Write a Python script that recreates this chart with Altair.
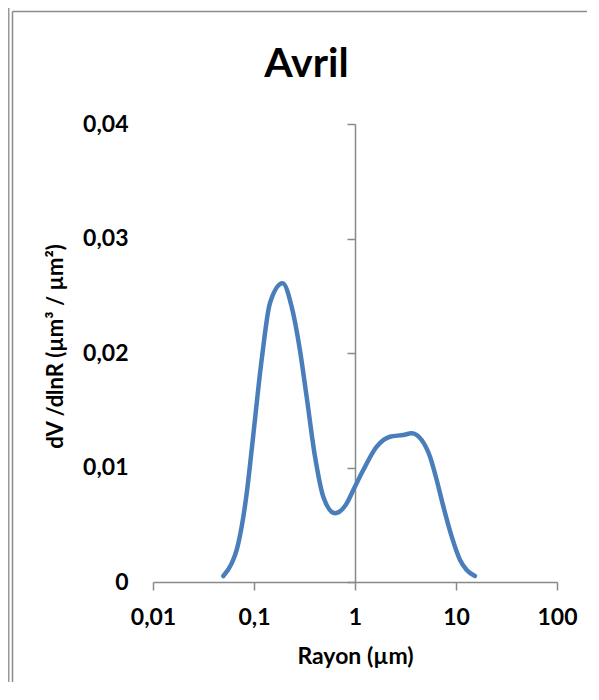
import altair as alt
import pandas as pd

# Radius (µm) and dV/dlnR values
rayon = [0.0497, 0.0601, 0.0674, 0.0755, 0.0847, 0.0948, 0.119, 0.144, 0.192, 0.236,
         0.285, 0.332, 0.402, 0.485, 0.634, 0.828, 0.962, 1.208, 1.64, 2.22,
         3.01, 3.64, 4.57, 5.53, 6.44, 7.50, 9.07, 10.96, 12.76, 15.4]
dv = [0.00052, 0.00163, 0.0028, 0.00483, 0.00775, 0.01153, 0.01939, 0.02437, 0.02609, 0.02404,
      0.02026, 0.01618, 0.01094, 0.00745, 0.0060, 0.00687, 0.00803, 0.00978, 0.01182, 0.01269,
      0.01284, 0.01299, 0.0124, 0.01094, 0.00891, 0.00658, 0.00396, 0.00192, 0.00105, 0.00052]

x_ticks = [0.01, 0.1, 1, 10, 100]
y_ticks = [0, 0.01, 0.02, 0.03, 0.04]
chart_title = ["Avril"]

df = pd.DataFrame({"r": rayon, "v": dv})

FONT = "Lato"
GRAY = "#898989"
W, H = 404, 458
PAD_L, PAD_T, PAD_R, PAD_B = 145, 116, 30, 100

x_scale = alt.Scale(type="log", domain=[0.01, 100], nice=False)
y_scale = alt.Scale(domain=[0, 0.04], nice=False)

x_axis = alt.Axis(
    values=x_ticks, title="Rayon (µm)", grid=False,
    labelExpr="replace(toString(datum.value), '.', ',')",
    labelFont=FONT, labelFontSize=23, labelFontWeight="bold", labelColor="black",
    labelPadding=16, labelFlush=False,
    tickSize=8, tickColor=GRAY, tickWidth=1.5,
    domainColor=GRAY, domainWidth=1.5,
    titleFont=FONT, titleFontSize=23, titleFontWeight="bold", titleColor="black",
    titlePadding=16,
)

# Left-side labels and title (no line)
y_label_axis = alt.Axis(
    orient="left", values=y_ticks, grid=False, domain=False, ticks=False, tickSize=0,
    labelExpr="replace(toString(datum.value), '.', ',')",
    labelFont=FONT, labelFontSize=23, labelFontWeight="bold", labelColor="black",
    labelPadding=25, labelFlush=False,
    title="dV /dlnR (µm³ / µm²)", titleFont=FONT, titleFontSize=22,
    titleFontWeight="bold", titleColor="black", titleAngle=-90,
    titleX=-86, titleY=222, titleAlign="center", titleBaseline="bottom",
)

# Axis line crossing at x = 1
y_line_axis = alt.Axis(
    orient="left", values=y_ticks, grid=False, labels=False, title=None,
    offset=-202, tickSize=8, tickColor=GRAY, tickWidth=1.5,
    domainColor=GRAY, domainWidth=1.5, zindex=0,
)

labels_layer = alt.Chart(df).mark_line(strokeOpacity=0).encode(
    x=alt.X("r:Q", scale=x_scale, axis=x_axis),
    y=alt.Y("v:Q", scale=y_scale, axis=y_label_axis),
)

curve = alt.Chart(df).mark_line(
    color="#4a7ebb", strokeWidth=4.5, interpolate="monotone", strokeCap="round"
).encode(
    x=alt.X("r:Q", scale=x_scale, axis=x_axis),
    y=alt.Y("v:Q", scale=y_scale, axis=y_line_axis),
)

title_layer = alt.Chart(alt.Data(values=[{"t": t} for t in chart_title])).mark_text(
    font=FONT, fontSize=41, fontWeight="bold", color="black",
    align="center", baseline="alphabetic"
).encode(
    text="t:N", x=alt.value(153.5), y=alt.value(-47)
)

dummy = alt.Data(values=[{"a": 1}])
frame_top = alt.Chart(dummy).mark_rule(color="#8c8c8c", strokeWidth=1.5).encode(
    x=alt.value(-PAD_L + 4.5), x2=alt.value(W + PAD_R + 20), y=alt.value(-PAD_T + 3.5)
)
frame_left1 = alt.Chart(dummy).mark_rule(color="#9a9a9a", strokeWidth=1.5).encode(
    x=alt.value(-PAD_L + 0.75), y=alt.value(-PAD_T), y2=alt.value(H + PAD_B)
)
frame_left2 = alt.Chart(dummy).mark_rule(color="#8c8c8c", strokeWidth=1.5).encode(
    x=alt.value(-PAD_L + 4.5), y=alt.value(-PAD_T + 3.5), y2=alt.value(H + PAD_B)
)

chart = alt.layer(
    labels_layer, curve, title_layer, frame_top, frame_left1, frame_left2
).resolve_axis(
    y="independent"
).properties(
    width=W, height=H,
    autosize=alt.AutoSizeParams(type="none"),
    padding={"left": PAD_L, "top": PAD_T, "right": PAD_R, "bottom": PAD_B},
).configure_view(stroke=None)

chart.save("out.html", embed_options={"renderer": "svg", "actions": False})
